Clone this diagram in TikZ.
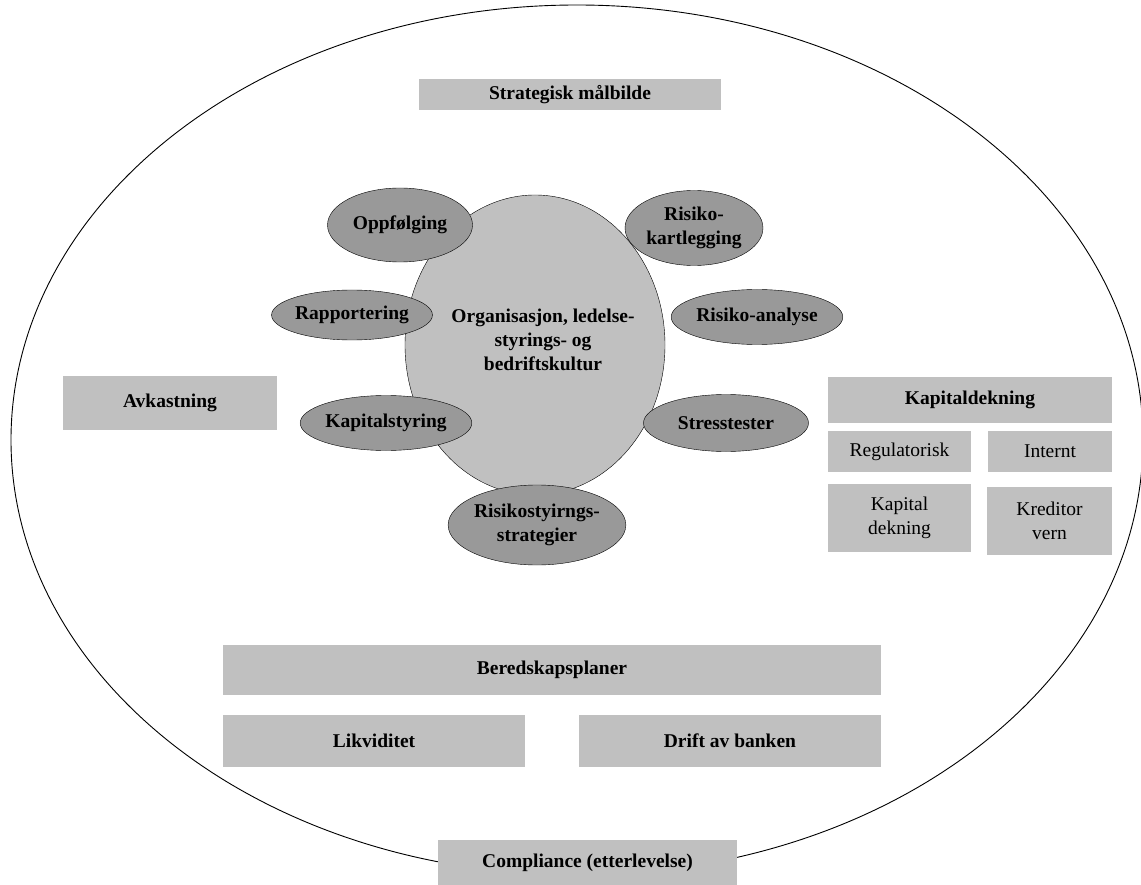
\documentclass[tikz,border=0pt]{standalone}
\usepackage{fontspec}
\setmainfont{Liberation Serif}
\usetikzlibrary{shapes.geometric}
\definecolor{boxgray}{HTML}{C0C0C0}
\definecolor{ovalgray}{HTML}{999999}
\newcommand{\labelsize}{\fontsize{19.5}{24}\selectfont}
\tikzset{
  box/.style={fill=boxgray, inner sep=0pt, align=center, font=\labelsize\bfseries},
  subbox/.style={box, font=\labelsize\mdseries},
  oval/.style={ellipse, draw=black, fill=ovalgray, inner sep=0pt, align=center, font=\labelsize\bfseries},
}

\begin{document}
\begin{tikzpicture}[x=1pt, y=-1pt]
  \useasboundingbox (0,0) rectangle (1141,885);
  % outer frame
  \draw[line width=0.9pt] (577,440) ellipse [x radius=566, y radius=435];

  % boxes round the circle
  \node[box, minimum width=302pt, minimum height=31pt] (strat) at (570,95) {Strategisk målbilde};
  \node[box, minimum width=214pt, minimum height=53pt] (avk) at (170,403) {Avkastning};
  \node[box, minimum width=284pt, minimum height=46pt] (kap) at (970,400) {Kapitaldekning};
  \node[subbox, minimum width=143pt, minimum height=41pt] (reg) at (899.5,451.5) {Regulatorisk};
  \node[subbox, minimum width=124pt, minimum height=41pt] (intern) at (1050,451.5) {Internt};
  \node[subbox, minimum width=143pt, minimum height=68pt] (kapdek) at (899.5,518) {Kapital\\dekning};
  \node[subbox, minimum width=125pt, minimum height=68pt] (kred) at (1049.5,521) {Kreditor\\vern};
  \node[box, minimum width=658pt, minimum height=50pt] (bered) at (552,670) {Beredskapsplaner};
  \node[box, minimum width=302pt, minimum height=52pt] (likv) at (374,741) {Likviditet};
  \node[box, minimum width=302pt, minimum height=52pt] (drift) at (730,741) {Drift av banken};
  \node[box, minimum width=299pt, minimum height=45pt] (compl) at (587.5,862.5) {Compliance (etterlevelse)};

  % the core and the process ovals
  \node[ellipse, draw=black, fill=boxgray, minimum width=260pt, minimum height=300pt,
        inner sep=0pt, align=center, font=\labelsize\bfseries] (core) at (535,345) {};
  \node[align=center, font=\labelsize\bfseries] (coretext) at (543,340)
        {Organisasjon, ledelse-\\styrings- og\\bedriftskultur};
  \node[oval, minimum width=145pt, minimum height=74pt] (oppf) at (400,225) {Oppfølging};
  \node[oval, minimum width=138pt, minimum height=75pt] (kartl) at (694,228) {Risiko-\\kartlegging};
  \node[oval, minimum width=151pt, minimum height=50pt] (rapp) at (352,315) {Rapportering};
  \node[oval, minimum width=153pt, minimum height=55pt] (analyse) at (757,317) {Risiko-analyse};
  \node[oval, minimum width=148pt, minimum height=55pt] (kapst) at (386,423) {Kapitalstyring};
  \node[oval, minimum width=165pt, minimum height=57pt] (stress) at (726,423) {Stresstester};
  \node[oval, minimum width=154pt, minimum height=80pt] (strategi) at (537,525) {Risikostyirngs-\\strategier};
\end{tikzpicture}
\end{document}
